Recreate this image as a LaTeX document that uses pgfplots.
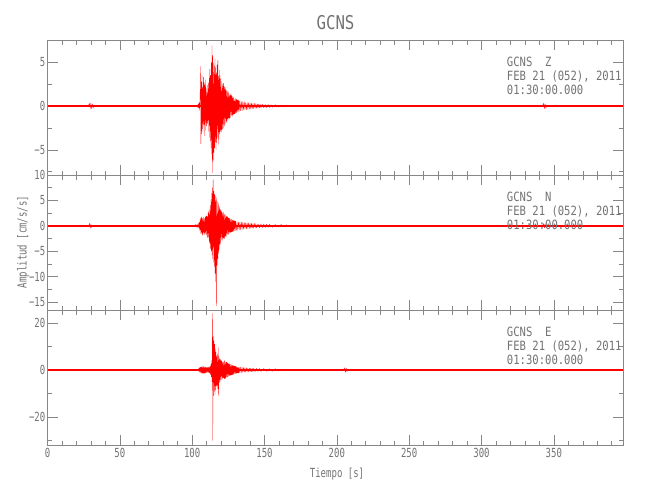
\documentclass[border=0pt]{standalone}
\usepackage{pgfplots}
\usepackage{pgfplotstable}
\pgfplotsset{compat=1.18}
\usepackage{fontspec}
\newfontfamily\fa[FakeStretch=0.83]{DejaVu Sans Mono}
\newfontfamily\fb[FakeStretch=0.72]{DejaVu Sans Mono}
\definecolor{axgray}{RGB}{135,135,135}
\definecolor{txtgray}{RGB}{115,115,115}

\pgfplotstableread{
t y
103.50 0.1
103.75 -0.15
104.00 0.2
104.25 -0.2
104.50 0.3
104.75 -0.3
105.00 0.4
105.25 -0.5
105.50 1.5
105.75 4.5
106.00 -4.3
106.25 2.8
106.50 -3.2
106.75 3.5
107.00 -2.6
107.25 2.2
107.50 -3.0
107.75 3.3
108.00 -2.1
108.25 2.7
108.50 -3.4
108.75 2.4
109.00 -2.8
109.25 3.0
109.50 -1.9
109.75 2.0
110.00 -2.3
110.25 1.6
110.50 -2.0
110.75 2.4
111.00 -1.7
111.25 2.6
111.50 -2.9
111.75 3.2
112.00 -3.6
112.25 4.2
112.50 -4.0
112.75 3.5
113.00 -4.8
113.25 5.0
113.50 -5.5
113.75 6.9
114.00 -7.6
114.25 5.8
114.50 -6.2
114.75 4.9
115.00 -5.3
115.25 4.6
115.50 -4.8
115.75 5.4
116.00 -4.1
116.25 4.4
116.50 -5.0
116.75 3.8
117.00 -4.2
117.25 4.7
117.50 -3.6
117.75 5.2
118.00 -4.4
118.25 3.4
118.50 -3.8
118.75 4.1
119.00 -3.2
119.25 3.5
119.50 -2.9
119.75 3.1
120.00 -2.7
120.25 2.8
120.50 -3.0
120.75 2.5
121.00 -2.6
121.25 2.3
121.50 -2.5
121.75 2.6
122.00 -2.1
122.25 2.2
122.50 -2.3
122.75 1.9
123.00 -2.0
123.25 2.1
123.50 -1.7
123.75 1.8
124.00 -1.9
124.25 1.6
124.50 -1.5
124.75 1.7
125.00 -1.4
125.25 1.5
125.50 -1.6
125.75 1.3
126.00 -1.4
126.25 1.2
126.50 -1.3
126.75 1.4
127.00 -1.1
127.25 1.2
127.50 -1.0
127.75 1.1
128.00 -1.2
128.25 0.9
128.50 -1.0
128.75 1.0
129.00 -0.9
129.25 0.8
129.50 -0.9
129.75 0.9
130.00 -0.8
130.25 0.7
130.50 -0.8
130.75 0.8
131.00 -0.7
131.25 0.7
131.50 -0.6
131.75 0.7
132.00 -0.7
132.25 0.6
132.50 -0.6
133.0 0.6
133.5 -0.55
134.0 0.5
134.5 -0.55
135.0 0.5
135.5 -0.45
136.0 0.5
136.5 -0.45
137.0 0.4
137.5 -0.45
138.0 0.4
138.5 -0.4
139.0 0.38
139.5 -0.36
140.0 0.35
140.5 -0.36
141.0 0.33
141.5 -0.32
142.0 0.3
142.5 -0.3
143.0 0.3
143.5 -0.28
144.0 0.27
144.5 -0.27
145.0 0.25
145.5 -0.25
146.0 0.24
146.5 -0.23
147.0 0.22
147.5 -0.22
148.5 0.2
149.5 -0.2
150.5 0.18
151.5 -0.18
152.5 0.17
153.5 -0.16
154.5 0.15
155.5 -0.15
157.5 0.14
159.5 -0.13
161.5 0.12
163.5 -0.12
}\Ztab

\pgfplotstableread{
t y
101.5 0.2
102.0 -0.25
102.5 0.3
103.0 -0.3
103.5 0.35
104.0 -0.4
104.5 0.5
104.75 -0.6
105.0 0.7
105.25 -0.9
105.5 1.2
105.75 -1.5
106.0 1.6
106.25 -1.4
106.5 1.8
106.75 -1.6
107.0 1.5
107.25 -1.9
107.5 1.4
107.75 -1.3
108.0 1.7
108.25 -1.8
108.5 1.5
108.75 -1.4
109.0 1.8
109.25 -1.6
109.5 1.9
109.75 -1.7
110.0 2.0
110.25 -2.2
110.5 1.8
110.75 -2.4
111.0 2.6
111.25 -2.2
111.5 2.9
111.75 -3.1
112.0 3.3
112.25 -3.5
112.5 4.0
112.75 -4.5
113.0 5.2
113.25 -5.0
113.5 6.5
113.75 -5.8
114.0 7.5
114.25 -6.5
114.5 9.1
114.75 -7.2
115.0 6.8
115.25 -8.0
115.5 6.2
115.75 -9.5
116.0 5.9
116.25 -11.0
116.5 5.0
116.75 -15.8
117.0 5.5
117.25 -7.8
117.5 4.8
117.75 -6.5
118.0 4.5
118.25 -5.4
118.5 4.0
118.75 -4.6
119.0 3.6
119.25 -3.8
119.5 3.2
119.75 -3.4
120.0 3.0
120.25 -2.8
120.5 2.7
120.75 -2.9
121.0 2.6
121.25 -2.5
121.5 2.7
121.75 -2.4
122.0 2.3
122.25 -2.5
122.5 2.2
122.75 -2.1
123.0 2.2
123.25 -2.0
123.5 1.9
123.75 -2.1
124.0 1.8
124.25 -1.7
124.5 1.8
124.75 -1.6
125.0 1.6
125.25 -1.7
125.5 1.5
125.75 -1.4
126.0 1.5
126.25 -1.3
126.5 1.4
126.75 -1.3
127.0 1.3
127.25 -1.2
127.5 1.2
127.75 -1.2
128.0 1.1
128.25 -1.1
128.5 1.1
128.75 -1.0
129.0 1.0
129.25 -1.0
129.5 0.95
129.75 -0.95
130.0 0.9
130.5 -0.9
131.0 0.85
131.5 -0.85
132.0 0.8
132.5 -0.8
133.0 0.78
133.5 -0.75
134.0 0.72
134.5 -0.7
135.0 0.68
135.5 -0.66
136.0 0.64
136.5 -0.62
137.0 0.6
137.5 -0.6
138.0 0.58
138.5 -0.56
139.0 0.55
139.5 -0.53
140.0 0.52
140.5 -0.5
141.0 0.5
141.5 -0.48
142.0 0.47
142.5 -0.46
143.0 0.45
143.5 -0.44
144.0 0.43
144.5 -0.42
145.5 0.4
146.5 -0.4
147.5 0.38
148.5 -0.36
149.5 0.35
150.5 -0.34
151.5 0.33
152.5 -0.32
153.5 0.3
155.5 -0.3
157.5 0.28
159.5 -0.26
161.5 0.25
163.5 -0.24
165.5 0.22
}\Ntab

\pgfplotstableread{
t y
103.5 0.3
104.0 -0.4
104.5 0.6
104.75 -0.7
105.0 0.9
105.25 -1.0
105.5 1.2
105.75 -1.3
106.0 1.1
106.25 -1.4
106.5 1.5
106.75 -1.2
107.0 1.3
107.25 -1.5
107.5 1.6
107.75 -1.3
108.0 1.4
108.25 -1.6
108.5 1.5
108.75 -1.2
109.0 1.3
109.25 -1.4
109.5 1.2
109.75 -1.1
110.0 1.0
110.25 -1.2
110.5 1.1
110.75 -0.9
111.0 1.0
111.25 -1.1
111.5 1.3
111.75 -1.2
112.0 1.5
112.25 -1.4
112.5 1.8
112.75 -2.0
113.0 2.5
113.25 -3.0
113.5 4.0
113.75 -5.0
114.0 24.0
114.25 -30.0
114.5 14.5
114.75 -11.0
115.0 12.5
115.25 -9.0
115.5 11.0
115.75 -10.5
116.0 9.0
116.25 -8.5
116.5 7.5
116.75 -7.0
117.0 6.0
117.25 -6.5
117.5 7.0
117.75 -8.0
118.0 9.5
118.25 -11.0
118.5 6.0
118.75 -5.5
119.0 4.8
119.25 -5.0
119.5 4.5
119.75 -4.2
120.0 4.0
120.25 -4.3
120.5 3.8
120.75 -3.6
121.0 3.4
121.25 -3.5
121.5 3.2
121.75 -3.3
122.0 3.9
122.25 -3.8
122.5 4.0
122.75 -3.5
123.0 3.4
123.25 -3.6
123.5 3.3
123.75 -3.1
124.0 3.4
124.25 -3.0
124.5 2.9
124.75 -3.1
125.0 2.7
125.25 -2.6
125.5 2.7
125.75 -2.5
126.0 2.5
126.25 -2.3
126.5 2.5
126.75 -2.2
127.0 2.2
127.25 -2.1
127.5 2.1
127.75 -2.0
128.0 2.0
128.25 -2.0
128.5 1.8
128.75 -1.8
129.0 1.7
129.25 -1.7
129.5 1.6
129.75 -1.6
130.0 1.6
130.25 -1.4
130.5 1.4
130.75 -1.4
131.0 1.3
131.25 -1.3
131.5 1.3
131.75 -1.25
132.0 1.25
132.25 -1.2
132.5 1.2
133.0 -1.2
133.5 1.15
134.0 -1.1
134.5 1.1
135.0 -1.05
135.5 1.05
136.0 -1.0
136.5 1.0
137.0 -0.96
137.5 0.94
138.0 -0.9
138.5 0.88
139.0 -0.86
139.5 0.83
140.0 -0.8
140.5 0.78
141.0 -0.75
141.5 0.74
142.0 -0.73
142.5 0.72
143.5 -0.69
144.5 0.68
145.5 -0.65
146.5 0.65
147.5 -0.62
149.5 0.6
151.5 -0.58
153.5 0.55
155.5 -0.52
157.5 0.5
159.5 -0.48
161.5 0.45
}\Etab

\pgfplotsset{
  seis/.style={
    scale only axis, width=575.8bp, height=135bp,
    xmin=0, xmax=398,
    axis line style={draw=axgray, line width=0.6bp},
    tick style={draw=axgray, line width=0.6bp},
    tick align=inside,
    xtick pos=both, ytick pos=both,
    xticklabel pos=bottom, yticklabel pos=left,
    major tick length=10bp, minor tick length=4.5bp,
    xtick={0,50,...,350},
    minor xtick={0,10,...,390},
    xticklabels={},
    ticklabel style={font=\fb\fontsize{12.5bp}{14bp}\selectfont, text=txtgray},
    yticklabel style={anchor=east, inner sep=0pt, xshift=-2bp},
    xticklabel style={anchor=north, inner sep=0pt, yshift=-3bp},
  },
  base/.style={red, line width=1.5bp},
  trace/.style={red, line width=0.3bp, line join=round},
}

\begin{document}
\begin{tikzpicture}
\useasboundingbox (0,0) rectangle (650bp,-500bp);

\begin{axis}[seis, at={(47.5bp,-40bp)}, anchor=north west,
  ymin=-7.87, ymax=7.53,
  ytick={-5,0,5}, yticklabels={−5,0,5},
  minor ytick={-7.5,-2.5,2.5,7.5}]
\addplot[base] coordinates {(0,0) (398,0)};
\addplot[trace] coordinates {(28,0) (29,0.3) (29.5,-0.3) (30,0.35) (30.5,-0.3) (31,0.25) (31.5,-0.25) (32,0) (342,0) (343,0.3) (343.5,-0.3) (344,0.25) (344.5,-0.25) (345,0)};
\addplot[trace] table[x=t,y=y] {\Ztab};
\end{axis}

\begin{axis}[seis, at={(47.5bp,-175bp)}, anchor=north west,
  ymin=-16.57, ymax=10,
  ytick={-15,-10,-5,0,5,10}, yticklabels={−15,−10,−5,0,5,10},
  minor ytick={-12.5,-7.5,-2.5,2.5,7.5}]
\addplot[base] coordinates {(0,0) (398,0)};
\addplot[trace] coordinates {(28.5,0) (29,0.5) (29.5,-0.5) (30,0.4) (30.5,-0.35) (31,0) (342,0) (343,0.45) (343.5,-0.45) (344,0.35) (344.5,-0.3) (345,0)};
\addplot[trace] table[x=t,y=y] {\Ntab};
\end{axis}

\begin{axis}[seis, at={(47.5bp,-310bp)}, anchor=north west,
  ymin=-31.9, ymax=25.5,
  ytick={-20,0,20}, yticklabels={−20,0,20},
  minor ytick={-30,-10,10},
  xticklabels={0,50,100,150,200,250,300,350}]
\addplot[base] coordinates {(0,0) (398,0)};
\addplot[trace] coordinates {(205,0) (205.5,1.0) (206,-1.1) (206.5,0.8) (207,-0.7) (207.5,0)};
\addplot[trace] table[x=t,y=y] {\Etab};
\end{axis}

\node[anchor=base, text=txtgray, font=\fa\fontsize{19bp}{21bp}\selectfont] at (335.5bp,-29.3bp) {GCNS};

\begin{scope}[every node/.style={anchor=base west, inner sep=0pt, text=txtgray, font=\fa\fontsize{12.75bp}{14bp}\selectfont}]
\node at (506.7bp,-66.7bp) {GCNS\ \ Z};
\node at (506.7bp,-80.7bp) {FEB 21 (052), 2011};
\node at (506.7bp,-94.2bp) {01:30:00.000};
\node at (506.7bp,-201.7bp) {GCNS\ \ N};
\node at (506.7bp,-215.7bp) {FEB 21 (052), 2011};
\node at (506.7bp,-229.2bp) {01:30:00.000};
\node at (506.7bp,-336.7bp) {GCNS\ \ E};
\node at (506.7bp,-350.7bp) {FEB 21 (052), 2011};
\node at (506.7bp,-364.2bp) {01:30:00.000};
\end{scope}

\node[anchor=base, inner sep=0pt, text=txtgray, font=\fb\fontsize{12.5bp}{14bp}\selectfont] at (337bp,-477bp) {Tiempo [s]};
\node[anchor=base, rotate=90, inner sep=0pt, text=txtgray, font=\fb\fontsize{12.5bp}{14bp}\selectfont] at (26.5bp,-242bp) {Amplitud [cm/s/s]};
\end{tikzpicture}
\end{document}
